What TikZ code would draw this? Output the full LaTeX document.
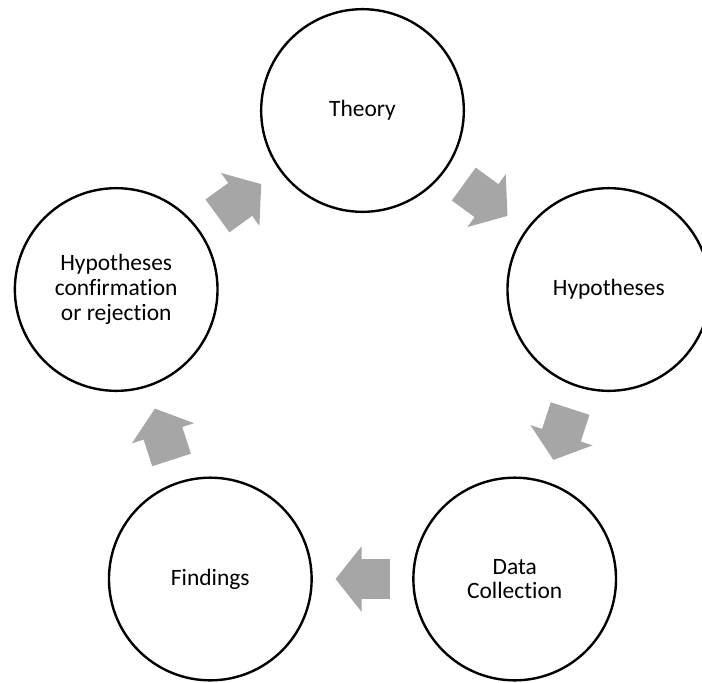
\documentclass[tikz,border=0pt]{standalone}
\usepackage{fontspec}
\setmainfont{Carlito}[Ligatures=NoCommon]
\usepackage{tikz}
\usepackage{xcolor}
\usetikzlibrary{arrows.meta}
\definecolor{arrowgray}{RGB}{166,166,166}

\begin{document}
\begin{tikzpicture}[x=0.75pt,y=-0.75pt]
\useasboundingbox (0,0) rectangle (702,682);
\begin{scope}[every node/.style={circle,line width=1.8pt,draw,minimum size=152pt,inner sep=0pt,align=center,font=\fontsize{17.6}{18.5}\selectfont}]
\node (0) at (362.5,110.5) {Theory}; 
\node (1) at (608.8,289.5) {Hypotheses}; 
\node (2) at (514.7,579) {Data\\Collection}; 
\node (3) at (210.3,579) {Findings}; 
\node (4) at (116.2,289.5) {Hypotheses\\confirmation\\or rejection}; 
\end{scope}

\draw[line width=30.5pt, arrowgray, -{Triangle[length=19.5pt,width=48pt]}, shorten <=17pt, shorten >=17pt] (0) -- (1); 
\draw[line width=30.5pt, arrowgray, -{Triangle[length=19.5pt,width=48pt]}, shorten <=17pt, shorten >=17pt] (1) -- (2); 
\draw[line width=30.5pt, arrowgray, -{Triangle[length=19.5pt,width=48pt]}, shorten <=17pt, shorten >=17pt] (2) -- (3); 
\draw[line width=30.5pt, arrowgray, -{Triangle[length=19.5pt,width=48pt]}, shorten <=17pt, shorten >=17pt] (3) -- (4); 
\draw[line width=30.5pt, arrowgray, -{Triangle[length=19.5pt,width=48pt]}, shorten <=17pt, shorten >=17pt] (4) -- (0); 

\end{tikzpicture}
\end{document}
